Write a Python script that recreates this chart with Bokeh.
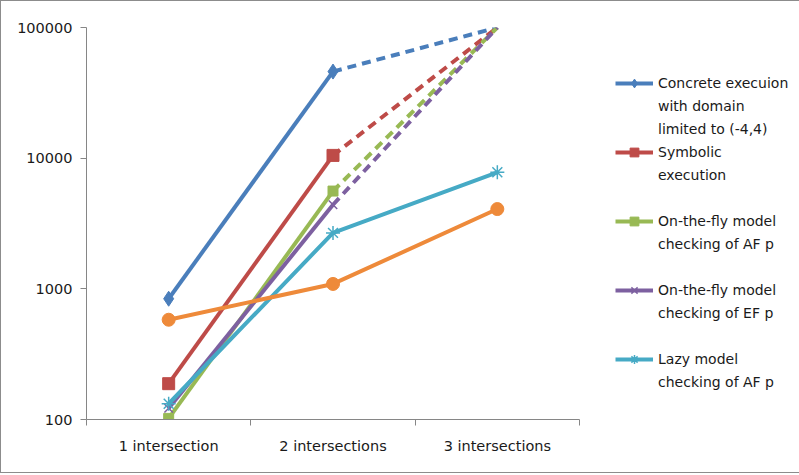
from bokeh.plotting import figure
from bokeh.models import Range1d, FixedTicker, NumeralTickFormatter, Legend, LegendItem
from bokeh.embed import file_html
from bokeh.resources import INLINE

categories = ["1 intersection", "2 intersections", "3 intersections"]
y_ticks = [100, 1000, 10000, 100000]

concrete = [840, 46000, 100000]
symbolic = [188, 10500, 100000]
otf_af = [102, 5600, 100000]
otf_ef = [122, 4400, 100000]
lazy_af = [132, 2680, 7800]
extra = [580, 1090, 4080]

# number of measured points per series (rest is a dashed projection)
measured_concrete = 2
measured_symbolic = 2
measured_otf_af = 2
measured_otf_ef = 2
measured_lazy_af = 3
measured_extra = 3

labels_concrete = ["Concrete execuion", "with domain", "limited to (-4,4)"]
labels_symbolic = ["Symbolic", "execution"]
labels_otf_af = ["On-the-fly model", "checking of AF p"]
labels_otf_ef = ["On-the-fly model", "checking of EF p"]
labels_lazy_af = ["Lazy model", "checking of AF p"]

series = [
    (concrete, measured_concrete, labels_concrete, "#4A7EBB", "diamond", 15, 2),
    (symbolic, measured_symbolic, labels_symbolic, "#BE4B48", "square", 12, 2),
    (otf_af, measured_otf_af, labels_otf_af, "#98B954", "square", 10, 2),
    (otf_ef, measured_otf_ef, labels_otf_ef, "#7D60A0", "x", 12, 1.5),
    (lazy_af, measured_lazy_af, labels_lazy_af, "#46AAC5", "asterisk", 14, 1.5),
    (extra, measured_extra, None, "#EE8A3A", "circle", 13, 1),
]

xs = [i + 0.5 for i in range(len(categories))]
axis_col = "#868686"
text_col = "#1a1a1a"
font = "DejaVu Sans"

p = figure(width=789, height=471, x_range=Range1d(0, len(categories)),
           y_range=Range1d(y_ticks[0], y_ticks[-1]), y_axis_type="log",
           output_backend="svg", toolbar_location=None,
           min_border_left=85, min_border_right=211, min_border_top=26, min_border_bottom=53,
           frame_width=493, frame_height=392)
p.styles = {"border": "1px solid #8c8c8c"}
p.xgrid.visible = False
p.ygrid.visible = False
p.outline_line_color = None
p.background_fill_color = "white"
p.border_fill_color = "white"

p.xaxis.ticker = FixedTicker(ticks=xs, minor_ticks=list(range(len(categories) + 1)))
p.xaxis.major_label_overrides = {x: c for x, c in zip(xs, categories)}
p.xaxis.major_tick_line_color = None
p.xaxis.minor_tick_line_color = axis_col
p.xaxis.minor_tick_in = 0
p.xaxis.minor_tick_out = 6
p.xaxis.axis_line_color = axis_col
p.xaxis.major_label_standoff = 12

p.yaxis.ticker = FixedTicker(ticks=y_ticks, minor_ticks=[])
p.yaxis.formatter = NumeralTickFormatter(format="0")
p.yaxis.major_tick_in = 0
p.yaxis.major_tick_out = 6
p.yaxis.major_tick_line_color = axis_col
p.yaxis.minor_tick_line_color = None
p.yaxis.axis_line_color = axis_col
p.yaxis.major_label_standoff = 8

for ax in (p.xaxis, p.yaxis):
    ax.major_label_text_font = font
    ax.major_label_text_font_size = "14.5px"
    ax.major_label_text_color = text_col

items = []
dummy = p.line(x=[], y=[], line_alpha=0)
slots = 3
for vals, n, labels, col, marker, size, lw in series:
    solid = p.line(xs[:n], vals[:n], line_color=col, line_width=4)
    if n < len(xs):
        p.line(xs[n - 1:], vals[n - 1:], line_color=col, line_width=4, line_dash="9 6")
    if marker in ("x", "asterisk"):
        m = p.scatter(xs[:n], vals[:n], marker=marker, size=size, line_color=col, line_width=lw)
    else:
        m = p.scatter(xs[:n], vals[:n], marker=marker, size=size, fill_color=col, line_color=col)
    if labels:
        items.append(LegendItem(label=labels[0], renderers=[solid, m]))
        for extra_line in labels[1:]:
            items.append(LegendItem(label=extra_line, renderers=[dummy]))
        for _ in range(slots - len(labels)):
            items.append(LegendItem(label=" ", renderers=[dummy]))

while items and items[-1].label.value == " ":
    items.pop()

legend = Legend(items=items, location=(36, 26), padding=0, margin=0,
                glyph_width=38, glyph_height=22, label_height=22, spacing=1,
                label_standoff=5, label_text_font=font, label_text_font_size="14px",
                label_text_color=text_col, border_line_alpha=0, background_fill_alpha=0)
p.add_layout(legend, "right")

open("out.html", "w").write(file_html(p, INLINE))
